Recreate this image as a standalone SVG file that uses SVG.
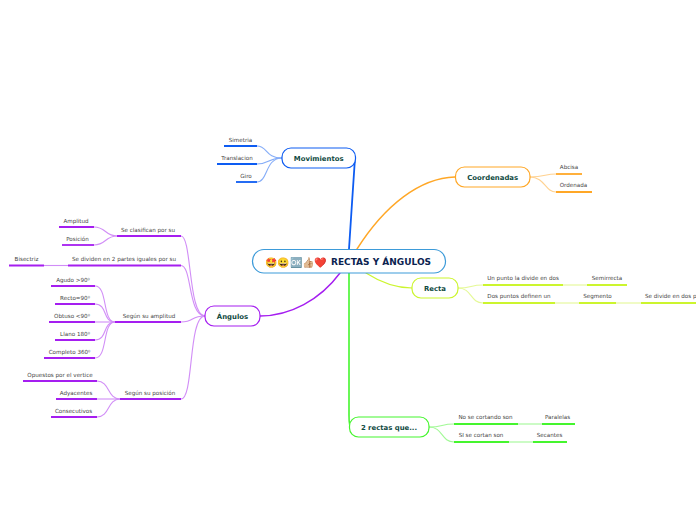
<svg xmlns="http://www.w3.org/2000/svg" width="696" height="520" viewBox="0 0 696 520">
<style>
text{font-family:"DejaVu Sans",Verdana,sans-serif}
.n{font-size:6.900px;font-weight:700;fill:#0f4a3f;text-anchor:middle}
.t{font-size:5.600px;fill:#444;text-anchor:middle}
.b{fill:#fff;stroke-width:1.200}
.c{fill:none;stroke-linecap:round}
.h{stroke-width:1.800;fill:none}
.blue{stroke:#0d5cf2}.org{stroke:#ffa726}.yel{stroke:#ccf52e}.grn{stroke:#45f52e}.pur{stroke:#a51ef0}
.f{stroke-width:1.100;fill:none;opacity:.5}
</style>
<rect width="696" height="520" fill="#fff"/>
<g id="connectors">
<path class="c blue" stroke-width="1.800" d="M349 249C351 215 353 190 355 158"/>
<path class="c org" stroke-width="1.400" d="M357 249C385 205 420 178 455 177"/>
<path class="c yel" stroke-width="1.200" d="M366 273C380 282 395 288 412 288"/>
<path class="c grn" stroke-width="1.600" d="M349 273V415C349 420 349 427 351 427"/>
<path class="c pur" stroke-width="1.400" d="M340 273C320 300 290 316 260 316"/>
<g class="f blue">
<path d="M282 158C265 158 268 146 257 146"/><path d="M282 158C268 158 270 164 257 164"/><path d="M282 158C265 158 268 182 257 182"/>
</g>
<g class="f org">
<path d="M530 177C545 177 545 174 556 174"/><path d="M530 177C545 177 545 192 556 192"/>
</g>
<g class="f yel">
<path d="M458 288C472 288 470 285 483 285"/><path d="M458 288C472 288 470 303 483 303"/><path d="M563 285H587"/><path d="M555 303H579"/><path d="M616 303H641"/>
</g>
<g class="f grn">
<path d="M429 427C443 427 441 424 454 424"/><path d="M429 427C443 427 441 442 454 442"/><path d="M518 424H542"/><path d="M509 442H533"/>
</g>
<g class="f pur">
<path d="M205 316C188 316 192 236 181 236"/><path d="M205 316C188 316 192 265.500 181 265.500"/><path d="M205 316C190 316 195 322 181 322"/><path d="M205 316C188 316 194 399 181 399"/>
<path d="M117 236C105 236 106 227 94 227"/><path d="M117 236C105 236 106 245 94 245"/><path d="M68 265.500H44"/>
<path d="M115 322C102 322 108 286 95 286"/><path d="M115 322C102 322 108 304 95 304"/><path d="M115 322H95"/><path d="M115 322C102 322 108 340 95 340"/><path d="M115 322C102 322 108 358 95 358"/>
<path d="M120 399C107 399 110 381 97 381"/><path d="M120 399H97"/><path d="M120 399C107 399 110 417 97 417"/>
</g>
</g>
<g id="root">
<rect x="252.500" y="249.500" width="193" height="23.500" rx="11.500" fill="#fff" stroke="#3d9bd9" stroke-width="1.200"/>
<text x="265" y="265.500" font-size="10" style="font-family:'Noto Color Emoji','DejaVu Sans',sans-serif">🤩😀🆗👍🏼❤️</text>
<text x="331" y="265" font-size="9" font-weight="700" fill="#0b2350">RECTAS Y ÁNGULOS</text>
</g>
<g id="movimientos"><rect class="b blue" x="282" y="148" width="73.500" height="20" rx="9"/><text class="n" x="318.700" y="161">Movimientos</text></g>
<g id="coordenadas"><rect class="b org" x="455.500" y="167" width="74.500" height="20" rx="9"/><text class="n" x="492.700" y="179.500">Coordenadas</text></g>
<g id="recta"><rect class="b yel" x="412" y="278" width="46" height="20" rx="9"/><text class="n" x="435" y="290.500">Recta</text></g>
<g id="rectas-que"><rect class="b grn" x="349.500" y="417" width="79.500" height="20" rx="9"/><text class="n" x="389" y="429.500">2 rectas que...</text></g>
<g id="angulos"><rect class="b pur" x="205" y="306" width="55" height="20" rx="9"/><text class="n" x="232.500" y="319">Ángulos</text></g>
<g id="simetria"><path class="h blue" d="M224 146H257"/><text class="t" x="240.500" y="142">Simetria</text></g>
<g id="translacion"><path class="h blue" d="M217 164H257"/><text class="t" x="237" y="160">Translacion</text></g>
<g id="giro"><path class="h blue" d="M236 182H257"/><text class="t" x="246" y="178">Giro</text></g>
<g id="abcisa"><path class="h org" d="M556 174H582"/><text class="t" x="569" y="169">Abcisa</text></g>
<g id="ordenada"><path class="h org" d="M556 192H592"/><text class="t" x="573.500" y="187">Ordenada</text></g>
<g id="un-punto"><path class="h yel" d="M483 285H563"/><text class="t" x="523" y="280">Un punto la divide en dos</text></g>
<g id="semirrecta"><path class="h yel" d="M587 285H627"/><text class="t" x="607" y="280">Semirrecta</text></g>
<g id="dos-puntos"><path class="h yel" d="M483 303H555"/><text class="t" x="519" y="298">Dos puntos definen un</text></g>
<g id="segmento"><path class="h yel" d="M579 303H616"/><text class="t" x="597.500" y="298">Segmento</text></g>
<g id="se-divide"><path class="h yel" d="M641 303H696"/><text x="645" y="298" font-size="5.600" fill="#444">Se divide en dos p</text></g>
<g id="no-se"><path class="h grn" d="M454 424H518"/><text class="t" x="485.500" y="419">No se cortando son</text></g>
<g id="paralelas"><path class="h grn" d="M542 424H575"/><text class="t" x="557.500" y="419">Paralelas</text></g>
<g id="si-se"><path class="h grn" d="M454 442H509"/><text class="t" x="481" y="437">SI se cortan son</text></g>
<g id="secantes"><path class="h grn" d="M533 442H567"/><text class="t" x="549.500" y="437">Secantes</text></g>
<g id="clasifican"><path class="h pur" d="M117 236H181"/><text class="t" x="148" y="232">Se clasifican por su</text></g>
<g id="amplitud"><path class="h pur" d="M59 227H94"/><text class="t" x="76" y="223">Amplitud</text></g>
<g id="posicion"><path class="h pur" d="M62 245H94"/><text class="t" x="77.500" y="241">Posición</text></g>
<g id="dividen"><path class="h pur" d="M68 265.500H181"/><text class="t" x="124" y="261">Se dividen en 2 partes iguales por su</text></g>
<g id="bisectriz"><path class="h pur" d="M9 265.500H44"/><text class="t" x="26.500" y="261">Bisectriz</text></g>
<g id="seg-amplitud"><path class="h pur" d="M115 322H181"/><text class="t" x="149" y="318">Según su amplitud</text></g>
<g id="agudo"><path class="h pur" d="M51 286H95"/><text class="t" x="73" y="282">Agudo &gt;90⁰</text></g>
<g id="recto"><path class="h pur" d="M55 304H95"/><text class="t" x="75" y="300">Recto=90⁰</text></g>
<g id="obtuso"><path class="h pur" d="M49 322H95"/><text class="t" x="72" y="318">Obtuso &lt;90⁰</text></g>
<g id="llano"><path class="h pur" d="M55 340H95"/><text class="t" x="75" y="336">Llano 180⁰</text></g>
<g id="completo"><path class="h pur" d="M44 358H95"/><text class="t" x="69.500" y="354">Completo 360⁰</text></g>
<g id="seg-posicion"><path class="h pur" d="M120 399H181"/><text class="t" x="150" y="395">Según su posición</text></g>
<g id="opuestos"><path class="h pur" d="M23 381H97"/><text class="t" x="60" y="377">Opuestos por el vertice</text></g>
<g id="adyacentes"><path class="h pur" d="M56 399H97"/><text class="t" x="76" y="395">Adyacentes</text></g>
<g id="consecutivos"><path class="h pur" d="M51 417H97"/><text class="t" x="73.500" y="413">Consecutivos</text></g>
</svg>
